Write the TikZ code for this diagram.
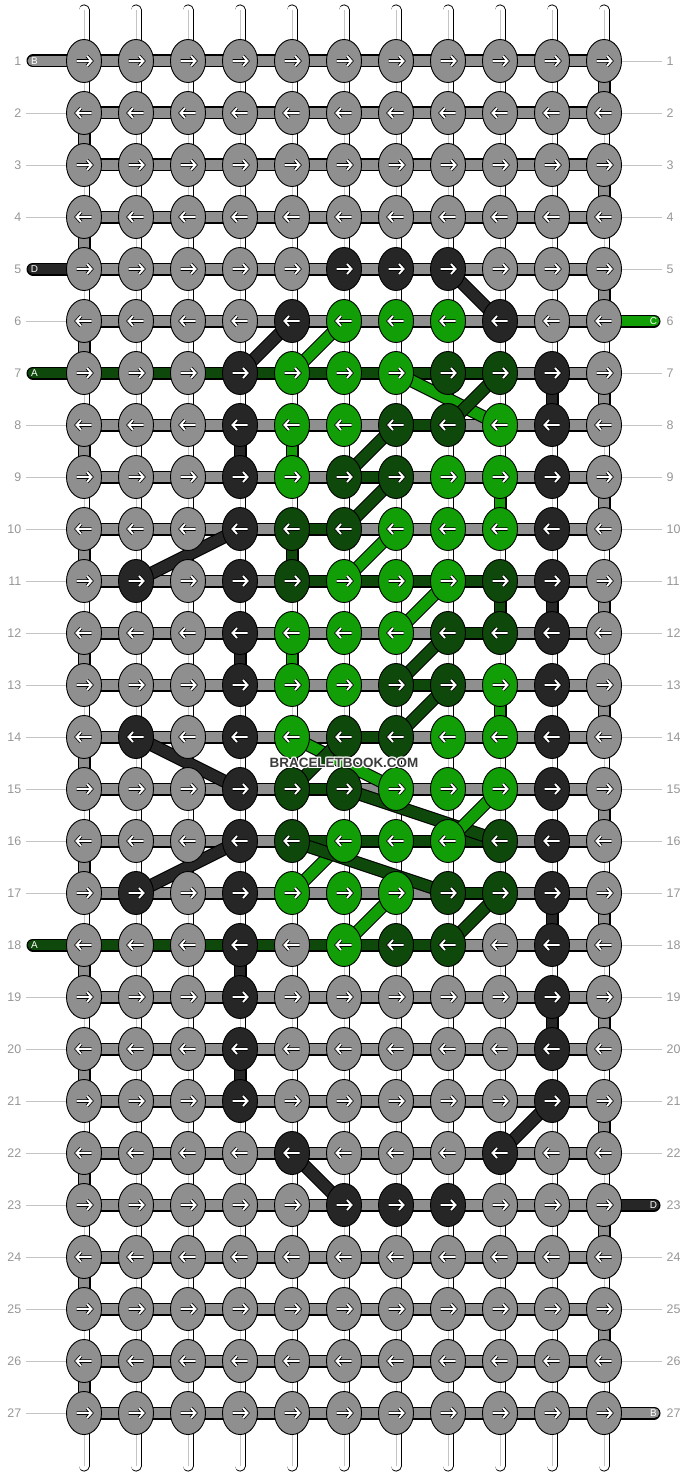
\documentclass[tikz,border=0pt]{standalone}
\usepackage{fontspec}
\setmainfont{Liberation Sans}
\usetikzlibrary{shapes.geometric}

\definecolor{cg}{RGB}{143,143,143}
\definecolor{ck}{RGB}{38,38,38}
\definecolor{cd}{RGB}{14,72,11}
\definecolor{cl}{RGB}{17,158,7}
\definecolor{numcol}{RGB}{150,150,150}
\definecolor{guidecol}{RGB}{196,196,196}

\tikzset{
  warp/.style={draw=black, line width=0.9bp, double=white, double distance=9.2bp, line cap=round},
  warpmid/.style={draw=guidecol, line width=0.8bp},
  strand/.style={draw=black, line width=1.1bp, double=#1, double distance=10.8bp},
  tab/.style={strand=#1, line cap=round},
  knot/.style={ellipse, draw=black, line width=0.9bp, minimum width=35bp, minimum height=43bp, inner sep=0pt},
  arrowmark/.style={draw=black, line width=0.8bp, double=white, double distance=1.9bp, line join=miter},
  rowno/.style={text=numcol, font=\fontsize{12.5}{14}\selectfont, inner sep=0pt},
  guide/.style={draw=guidecol, line width=0.8bp},
  tabtext/.style={text=white, font=\fontsize{10}{11}\selectfont, inner sep=0pt},
}

\begin{document}
\begin{tikzpicture}[x=1bp,y=-1bp,line join=bevel]
\useasboundingbox (0,0) rectangle (688,1476);
%%
\foreach \r in {1,...,27}
  \foreach \c in {1,...,11}
    \coordinate (p-\r-\c) at ({32+52*\c},{9+52*\r});
%% vertical strings
\foreach \c in {1,...,11} {
  \coordinate (top-\c) at ({32+52*\c},10);
  \coordinate (bot-\c) at ({32+52*\c},1466);
  \draw[warp] (top-\c) -- (bot-\c);
  \draw[warpmid] (top-\c) -- (bot-\c);
}
%% row strings
\foreach \r in {1,...,27}
  \draw[strand=cg] (p-\r-1) -- (p-\r-11);
\foreach \r [evaluate=\r as \s using int(\r+1)] in {2,4,...,26}
  \draw[strand=cg] (p-\r-1) -- (p-\s-1);
\foreach \r [evaluate=\r as \s using int(\r+1)] in {1,3,...,25}
  \draw[strand=cg] (p-\r-11) -- (p-\s-11);
%% end tabs
\coordinate (tab-B1) at (33,61);
\coordinate (tab-D1) at (33,269);
\coordinate (tab-A1) at (33,373);
\coordinate (tab-A2) at (33,945);
\coordinate (tab-C1) at (654,321);
\coordinate (tab-D2) at (654,1205);
\coordinate (tab-B2) at (654,1413);
\draw[tab=cg] (tab-B1) -- (p-1-1);
\draw[tab=ck] (tab-D1) -- (p-5-1);
\draw[tab=cd] (tab-A1) -- (p-7-9);
\draw[tab=cd] (tab-A2) -- (p-18-8);
\draw[tab=cl] (p-6-11) -- (tab-C1);
\draw[tab=ck] (p-23-11) -- (tab-D2);
\draw[tab=cg] (p-27-11) -- (tab-B2);
%% green runs
\draw[strand=cd] (p-8-7) -- (p-8-8);
\draw[strand=cd] (p-9-6) -- (p-9-7);
\draw[strand=cd] (p-10-5) -- (p-10-6);
\draw[strand=cd] (p-11-5) -- (p-11-9);
\draw[strand=cd] (p-12-8) -- (p-12-9);
\draw[strand=cd] (p-13-7) -- (p-13-8);
\draw[strand=cd] (p-14-6) -- (p-14-7);
\draw[strand=cd] (p-15-5) -- (p-15-6);
\draw[strand=cd] (p-16-5) -- (p-16-9);
\draw[strand=cd] (p-17-8) -- (p-17-9);
\draw[strand=cl] (p-8-5) -- (p-9-5);
\draw[strand=cl] (p-9-9) -- (p-10-9);
\draw[strand=cd] (p-10-5) -- (p-11-5);
\draw[strand=cd] (p-11-9) -- (p-12-9);
\draw[strand=cl] (p-12-5) -- (p-13-5);
\draw[strand=cl] (p-13-9) -- (p-14-9);
%% black runs
\draw[strand=ck] (p-8-4) -- (p-9-4);
\draw[strand=ck] (p-12-4) -- (p-13-4);
\draw[strand=ck] (p-18-4) -- (p-19-4);
\draw[strand=ck] (p-20-4) -- (p-21-4);
\draw[strand=ck] (p-7-10) -- (p-8-10);
\draw[strand=ck] (p-11-10) -- (p-12-10);
\draw[strand=ck] (p-17-10) -- (p-18-10);
\draw[strand=ck] (p-19-10) -- (p-20-10);
\draw[strand=ck] (p-5-8) -- (p-6-9);
\draw[strand=ck] (p-6-5) -- (p-7-4);
\draw[strand=ck] (p-10-4) -- (p-11-2);
\draw[strand=ck] (p-14-2) -- (p-15-4);
\draw[strand=ck] (p-16-4) -- (p-17-2);
\draw[strand=ck] (p-21-10) -- (p-22-9);
\draw[strand=ck] (p-22-5) -- (p-23-6);
%% diagonals
\draw[strand=cl] (p-6-6) -- (p-7-5);
\draw[strand=cl] (p-7-7) -- (p-8-9);
\draw[strand=cd] (p-7-9) -- (p-8-8);
\draw[strand=cd] (p-8-7) -- (p-9-6);
\draw[strand=cd] (p-9-7) -- (p-10-6);
\draw[strand=cl] (p-10-7) -- (p-11-6);
\draw[strand=cl] (p-11-8) -- (p-12-7);
\draw[strand=cd] (p-12-8) -- (p-13-7);
\draw[strand=cd] (p-13-8) -- (p-14-7);
\draw[strand=cl] (p-14-5) -- (p-15-7);
\draw[strand=cd] (p-15-5) -- (p-14-6);
\draw[strand=cd] (p-15-6) -- (p-16-9);
\draw[strand=cl] (p-15-9) -- (p-16-8);
\draw[strand=cl] (p-16-6) -- (p-17-5);
\draw[strand=cd] (p-16-5) -- (p-17-8);
\draw[strand=cl] (p-17-7) -- (p-18-6);
\draw[strand=cd] (p-17-9) -- (p-18-8);
%% knots
\foreach \rowcols [count=\r] in {
  {g,g,g,g,g,g,g,g,g,g,g},
  {g,g,g,g,g,g,g,g,g,g,g},
  {g,g,g,g,g,g,g,g,g,g,g},
  {g,g,g,g,g,g,g,g,g,g,g},
  {g,g,g,g,g,k,k,k,g,g,g},
  {g,g,g,g,k,l,l,l,k,g,g},
  {g,g,g,k,l,l,l,d,d,k,g},
  {g,g,g,k,l,l,d,d,l,k,g},
  {g,g,g,k,l,d,d,l,l,k,g},
  {g,g,g,k,d,d,l,l,l,k,g},
  {g,k,g,k,d,l,l,l,d,k,g},
  {g,g,g,k,l,l,l,d,d,k,g},
  {g,g,g,k,l,l,d,d,l,k,g},
  {g,k,g,k,l,d,d,l,l,k,g},
  {g,g,g,k,d,d,l,l,l,k,g},
  {g,g,g,k,d,l,l,l,d,k,g},
  {g,k,g,k,l,l,l,d,d,k,g},
  {g,g,g,k,g,l,d,d,g,k,g},
  {g,g,g,k,g,g,g,g,g,k,g},
  {g,g,g,k,g,g,g,g,g,k,g},
  {g,g,g,k,g,g,g,g,g,k,g},
  {g,g,g,g,k,g,g,g,k,g,g},
  {g,g,g,g,g,k,k,k,g,g,g},
  {g,g,g,g,g,g,g,g,g,g,g},
  {g,g,g,g,g,g,g,g,g,g,g},
  {g,g,g,g,g,g,g,g,g,g,g},
  {g,g,g,g,g,g,g,g,g,g,g}} {
  \ifodd\r \def\dir{1}\else\def\dir{-1}\fi
  \foreach \cc [count=\c] in \rowcols {
    \node[knot, fill=c\cc] (k-\r-\c) at (p-\r-\c) {};
    \draw[arrowmark, shift={(k-\r-\c)}, xscale=\dir] (-7.5,0) -- (7.5,0) (3,-5) -- (7.5,0) -- (3,5);
  }
}
%% tab letters
\node[tabtext] (lt-B1) at (34.5,61) {B};
\node[tabtext] (lt-D1) at (34.5,269) {D};
\node[tabtext] (lt-A1) at (34.5,373) {A};
\node[tabtext] (lt-A2) at (34.5,945) {A};
\node[tabtext] (lt-C1) at (653.5,321) {C};
\node[tabtext] (lt-D2) at (653.5,1205) {D};
\node[tabtext] (lt-B2) at (653.5,1413) {B};
%% row numbers
\foreach \r in {1,...,27} {
  \node[rowno, anchor=east] (nl-\r) at (21.5,{9+52*\r}) {\r};
  \node[rowno, anchor=west] (nr-\r) at (666.5,{9+52*\r}) {\r};
}
\foreach \r in {2,3,4,6,8,9,10,11,12,13,14,15,16,17,19,20,21,22,23,24,25,26,27}
  \draw[guide] ([xshift=4.5bp]nl-\r.east) -- (k-\r-1.west);
\foreach \r in {1,2,3,4,5,7,8,9,10,11,12,13,14,15,16,17,18,19,20,21,22,24,25,26}
  \draw[guide] (k-\r-11.east) -- ([xshift=-4.5bp]nr-\r.west);
%% mark
\foreach \dx/\dy [count=\i] in {-1/0,1/0,0/-1,0/1,-1/-1,1/1,-1/1,1/-1}
  \node[text=white, font=\bfseries\fontsize{13.5}{15}\selectfont] (wm-\i) at ({344+\dx},{763+\dy}) {BRACELETBOOK.COM};
\node[text=ck!90, font=\bfseries\fontsize{13.5}{15}\selectfont] (wm) at (344,763) {BRACELETBOOK.COM};
%
\end{tikzpicture}
\end{document}
